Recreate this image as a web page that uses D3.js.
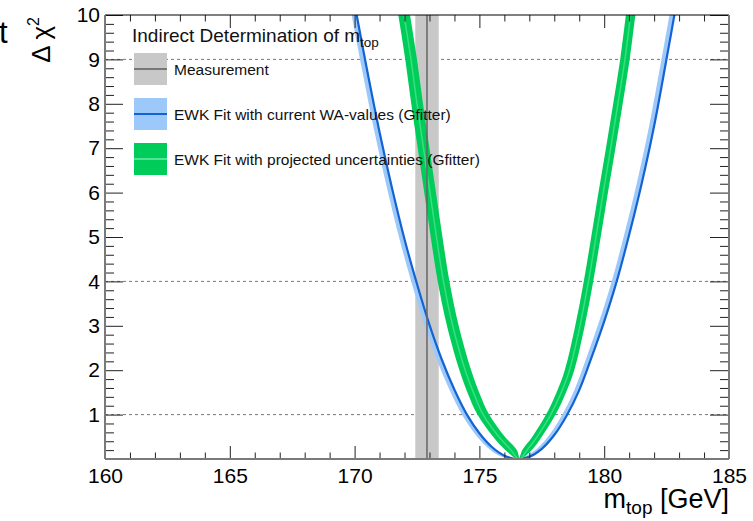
<!DOCTYPE html>
<html>
  <head>
    <meta charset="utf-8">
    <title>Indirect Determination of m_top</title>
    <style>
      body {
        margin: 0;
        background: #fff;
        font-family: "Liberation Sans", Arial, sans-serif;
      }
      .axis text {
        font-size: 21px;
        fill: #000;
      }
      .axis line {
        stroke: #222;
        stroke-width: 1px;
      }
      .grid line {
        stroke: #777;
        stroke-width: 1px;
        stroke-dasharray: 3px 3px;
      }
      .legend text {
        font-size: 15.5px;
        fill: #111;
      }
    </style>
  </head>
  <body>
    <script src="https://d3js.org/d3.v7.min.js"></script>
    <script>
    // current EWK fit: delta chi2 against m_top (GeV)
    var blueMtop = [169.8, 170.0, 170.5, 171.0, 171.5, 172.0, 172.5, 173.0, 173.5, 174.0, 174.5, 175.0, 175.5, 176.0, 176.56,
                    177.0, 177.5, 178.0, 178.5, 179.0, 179.5, 180.0, 180.5, 181.0, 181.5, 182.0, 182.5, 183.0, 183.2];
    var blueChi2 = [10.88, 10.25, 8.76, 7.36, 6.1, 4.95, 3.94, 3.02, 2.23, 1.56, 1.0, 0.58, 0.27, 0.075, 0,
                    0.05, 0.23, 0.54, 0.98, 1.55, 2.3, 3.1, 4.0, 5.05, 6.2, 7.5, 9.02, 10.6, 11.3];
    // light-blue band edge, about 0.2 GeV to the left of the line
    var blueEdgeMtop = [169.6, 169.8, 170.3, 170.8, 171.3, 171.8, 172.3, 172.8, 173.3, 173.8, 174.3, 174.8, 175.3, 175.8, 176.36,
                        176.8, 177.3, 177.8, 178.3, 178.8, 179.3, 179.8, 180.3, 180.8, 181.3, 181.8, 182.3, 182.8, 183.0];

    // projected fit: band edges as m_top where each edge reaches the levels below
    var greenLevels = [10.5, 10, 9, 8, 7, 6, 5, 4, 3, 2, 1.5, 1, 0.5, 0.2, 0];
    var greenOuterLeft  = [171.60, 171.75, 172.03, 172.27, 172.53, 172.79, 173.05, 173.33, 173.70, 174.20, 174.52, 174.92, 175.55, 176.04, 176.50];
    var greenInnerLeft  = [172.07, 172.22, 172.50, 172.74, 173.00, 173.26, 173.52, 173.80, 174.17, 174.67, 174.99, 175.39, 176.02, 176.50, 176.60];
    var greenMidLeft    = [171.84, 171.98, 172.26, 172.50, 172.76, 173.02, 173.28, 173.56, 173.93, 174.43, 174.76, 175.15, 175.78, 176.27, 176.55];
    var greenOuterRight = [181.37, 181.25, 181.02, 180.74, 180.45, 180.15, 179.86, 179.56, 179.22, 178.80, 178.47, 178.05, 177.50, 177.10, 176.66];
    var greenInnerRight = [180.99, 180.87, 180.64, 180.36, 180.07, 179.77, 179.48, 179.18, 178.84, 178.42, 178.09, 177.67, 177.12, 176.72, 176.60];
    var greenMidRight   = [181.18, 181.06, 180.83, 180.55, 180.26, 179.96, 179.67, 179.37, 179.03, 178.61, 178.28, 177.86, 177.31, 176.91, 176.63];

    var measurement = 172.9, measurementErr = 0.47;

    var xTicks = [160, 165, 170, 175, 180, 185];
    var yTicks = [0, 1, 2, 3, 4, 5, 6, 7, 8, 9, 10];
    var gridLevels = [1, 4, 9];

    var legendItems = [
      {label: "Measurement", fill: "#c8c8c8", line: "#777"},
      {label: "EWK Fit with current WA-values (Gfitter)", fill: "#9cc9fa", line: "#1463d2"},
      {label: "EWK Fit with projected uncertainties (Gfitter)", fill: "#00cc5a", line: "#52e596"}
    ];

    var margin = {top: 15, right: 24, bottom: 62, left: 105};
    var width = 753 - margin.left - margin.right,
        height = 521 - margin.top - margin.bottom;

    var x = d3.scaleLinear().domain([160, 185]).range([0, width]);
    var y = d3.scaleLinear().domain([0, 10]).range([height, 0]);

    var root = d3.select("body").append("svg")
        .attr("width", 753)
        .attr("height", 521);

    var svg = root.append("g")
        .attr("transform", "translate(" + margin.left + "," + margin.top + ")");

    svg.append("clipPath").attr("id", "plot-clip")
      .append("rect").attr("width", width).attr("height", height);

    // dashed reference lines
    svg.append("g").attr("class", "grid")
      .selectAll("line")
      .data(gridLevels)
      .enter().append("line")
        .attr("x1", 0).attr("x2", width)
        .attr("y1", function(d) { return y(d); })
        .attr("y2", function(d) { return y(d); });

    var plot = svg.append("g").attr("clip-path", "url(#plot-clip)");

    // measurement band
    plot.append("rect")
        .attr("x", x(measurement - measurementErr))
        .attr("width", x(measurement + measurementErr) - x(measurement - measurementErr))
        .attr("y", 0)
        .attr("height", height)
        .style("fill", "#c8c8c8");

    var line = d3.line()
        .x(function(d) { return x(d[0]); })
        .y(function(d) { return y(d[1]); })
        .curve(d3.curveCatmullRom.alpha(0.5));

    function pairs(ms, chi) {
      return ms.map(function(m, i) { return [m, chi[i]]; });
    }
    function ushape(left, right) {
      return pairs(left, greenLevels).concat(pairs(right, greenLevels).reverse());
    }

    // blue: current fit
    var blueCurve = pairs(blueMtop, blueChi2);
    var blueEdge = pairs(blueEdgeMtop, blueChi2);
    plot.append("path")
        .attr("d", line(blueCurve.concat(blueEdge.slice().reverse())) + "Z")
        .style("fill", "#9cc9fa");
    plot.append("path")
        .attr("d", line(blueCurve))
        .style("fill", "none")
        .style("stroke", "#1463d2")
        .style("stroke-width", 2.2);

    // green: projected uncertainties
    var greenOuter = ushape(greenOuterLeft, greenOuterRight);
    var greenInner = ushape(greenInnerLeft, greenInnerRight);
    plot.append("path")
        .attr("d", line(greenOuter.concat(greenInner.slice().reverse())) + "Z")
        .style("fill", "#00cc5a");
    plot.append("path")
        .attr("d", line(ushape(greenMidLeft, greenMidRight)))
        .style("fill", "none")
        .style("stroke", "#52e596")
        .style("stroke-width", 1.5)
        .style("opacity", 0.7);

    plot.append("line")
        .attr("x1", x(measurement)).attr("x2", x(measurement))
        .attr("y1", 0).attr("y2", height)
        .style("stroke", "#666")
        .style("stroke-width", 1.5);

    // axes: ticks inside on all four sides
    function minorTicks(lo, hi, step, majors) {
      var out = [];
      for (var v = lo; v <= hi + 1e-9; v += step) {
        var r = Math.round(v * 10) / 10;
        if (majors.indexOf(r) < 0) out.push(r);
      }
      return out;
    }
    var xMinor = minorTicks(160, 185, 1, xTicks);
    var yMinor = minorTicks(0, 10, 0.2, yTicks);

    function addAxis(axis, tx, ty) {
      var g = svg.append("g")
          .attr("class", "axis")
          .attr("transform", "translate(" + tx + "," + ty + ")")
          .call(axis);
      g.select(".domain").remove();
      return g;
    }

    addAxis(d3.axisBottom(x).tickValues(xTicks).tickSize(-13).tickPadding(9).tickFormat(d3.format("d")), 0, height);
    addAxis(d3.axisBottom(x).tickValues(xMinor).tickSize(-6.5).tickFormat(""), 0, height);
    addAxis(d3.axisTop(x).tickValues(xTicks).tickSize(-13).tickFormat(""), 0, 0);
    addAxis(d3.axisTop(x).tickValues(xMinor).tickSize(-6.5).tickFormat(""), 0, 0);

    addAxis(d3.axisLeft(y).tickValues(yTicks).tickSize(-18).tickPadding(5)
        .tickFormat(function(d) { return d === 0 ? "" : d; }), 0, 0);
    addAxis(d3.axisLeft(y).tickValues(yMinor).tickSize(-9).tickFormat(""), 0, 0);
    addAxis(d3.axisRight(y).tickValues(yTicks).tickSize(-19).tickFormat(""), width, 0);
    addAxis(d3.axisRight(y).tickValues(yMinor).tickSize(-9).tickFormat(""), width, 0);

    // frame
    var frame = svg.append("g");
    frame.append("line").attr("x1", 0).attr("x2", width).attr("y1", 0).attr("y2", 0)
        .style("stroke", "#000").style("stroke-width", 1.2);
    frame.append("line").attr("x1", 0).attr("x2", width).attr("y1", height).attr("y2", height)
        .style("stroke", "#7a7a7a").style("stroke-width", 2);
    frame.append("line").attr("x1", 0).attr("x2", 0).attr("y1", 0).attr("y2", height)
        .style("stroke", "#7a7a7a").style("stroke-width", 2);
    frame.append("line").attr("x1", width).attr("x2", width).attr("y1", 0).attr("y2", height)
        .style("stroke", "#7a7a7a").style("stroke-width", 2);

    // axis titles
    var xTitle = root.append("text")
        .attr("x", margin.left + width)
        .attr("y", 508)
        .attr("text-anchor", "end")
        .style("font-size", "27px");
    xTitle.append("tspan").text("m");
    xTitle.append("tspan").text("top").attr("dy", 6).style("font-size", "19px");
    xTitle.append("tspan").text(" [GeV]").attr("dy", -6);

    var yTitle = root.append("text")
        .attr("transform", "translate(50,17) rotate(-90)")
        .attr("text-anchor", "end")
        .style("font-size", "26px");
    yTitle.append("tspan").text("\u0394 \u03c7");
    yTitle.append("tspan").text("2").attr("dy", -11).style("font-size", "16px");

    // stray glyph at the left edge of the original picture
    root.append("text")
        .attr("x", -1)
        .attr("y", 43)
        .style("font-size", "31px")
        .text("t");

    // legend
    var legend = root.append("g").attr("class", "legend");

    var title = legend.append("text")
        .attr("x", 132)
        .attr("y", 42)
        .style("font-size", "19px");
    title.append("tspan").text("Indirect Determination of m");
    title.append("tspan").text("top").attr("dy", 5).style("font-size", "13.5px");

    var rowY = [53, 98, 143];
    var rows = legend.selectAll("g.row")
        .data(legendItems)
        .enter().append("g")
        .attr("class", "row")
        .attr("transform", function(d, i) { return "translate(134," + rowY[i] + ")"; });

    rows.append("rect")
        .attr("width", 33)
        .attr("height", 32)
        .style("fill", function(d) { return d.fill; });
    rows.append("line")
        .attr("x1", 0).attr("x2", 33)
        .attr("y1", 16).attr("y2", 16)
        .style("stroke", function(d) { return d.line; })
        .style("stroke-width", 2);
    rows.append("text")
        .attr("x", 40)
        .attr("y", 22)
        .text(function(d) { return d.label; });
    </script>
  </body>
</html>
